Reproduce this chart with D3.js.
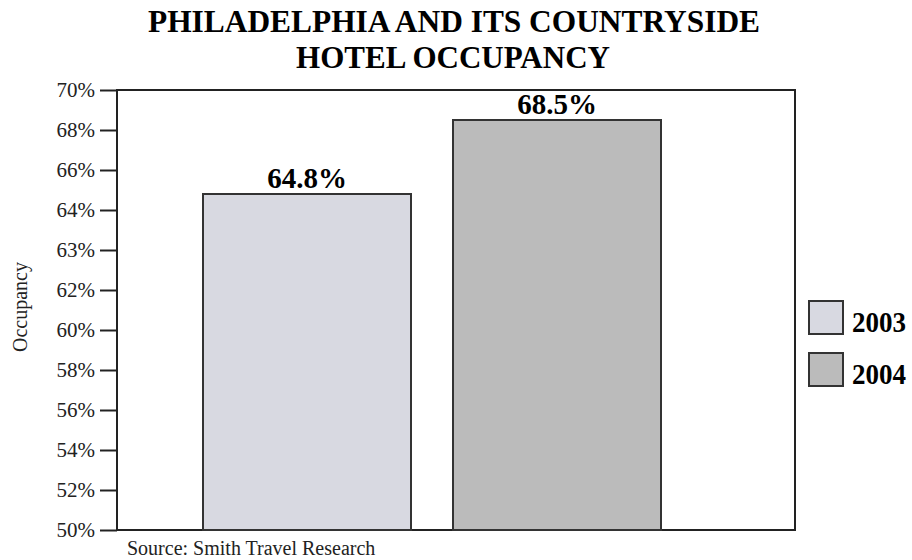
<!DOCTYPE html>
<html>
<head>
<meta charset="utf-8">
<script src="https://cdn.jsdelivr.net/npm/d3@7"></script>
<style>
  body { margin: 0; background: #fff; }
  svg text { font-family: "Liberation Serif", "Times New Roman", serif !important; }
</style>
</head>
<body>
<div id="chart"></div>
<script>
// --- data ---
const years = ["2003", "2004"];
const occupancy = [64.8, 68.5];
const barColors = ["#d8d9e1", "#bbbbbb"];
// tick labels as printed on the original axis (evenly spaced)
const tickValues = [50, 52, 54, 56, 58, 60, 62, 63, 64, 66, 68, 70];

const width = 912, height = 560;
const plot = { left: 117, top: 90, right: 795, bottom: 530 };

const svg = d3.select("#chart").append("svg")
  .attr("width", width)
  .attr("height", height);

// the printed axis spaces its labels evenly, so map piecewise
const y = d3.scaleLinear()
  .domain(tickValues)
  .range(tickValues.map((d, i) => plot.bottom - i * (plot.bottom - plot.top) / (tickValues.length - 1)));

const x = d3.scaleBand()
  .domain(years)
  .range([153, 711])
  .paddingInner(0.168)
  .paddingOuter(0.2);

// title (original type is tall & condensed)
svg.append("text")
  .attr("x", 148).attr("y", 32)
  .attr("font-size", 31).attr("font-weight", "bold")
  .attr("textLength", 612).attr("lengthAdjust", "spacingAndGlyphs")
  .text("PHILADELPHIA AND ITS COUNTRYSIDE");
svg.append("text")
  .attr("x", 296).attr("y", 68)
  .attr("font-size", 31).attr("font-weight", "bold")
  .attr("textLength", 314).attr("lengthAdjust", "spacingAndGlyphs")
  .text("HOTEL OCCUPANCY");

// frame
svg.append("rect")
  .attr("x", plot.left).attr("y", plot.top)
  .attr("width", plot.right - plot.left)
  .attr("height", plot.bottom - plot.top)
  .attr("fill", "none")
  .attr("stroke", "#222")
  .attr("stroke-width", 2);

// bars
svg.selectAll(".bar")
  .data(occupancy)
  .enter()
  .append("rect")
  .attr("class", "bar")
  .attr("x", (d, i) => x(years[i]))
  .attr("y", d => y(d))
  .attr("width", x.bandwidth())
  .attr("height", d => plot.bottom - y(d))
  .attr("fill", (d, i) => barColors[i])
  .attr("stroke", "#333")
  .attr("stroke-width", 2);

svg.selectAll(".val")
  .data(occupancy)
  .enter()
  .append("text")
  .attr("class", "val")
  .attr("x", (d, i) => x(years[i]) + x.bandwidth() / 2)
  .attr("y", d => y(d) - 6)
  .attr("text-anchor", "middle")
  .attr("font-size", 29).attr("font-weight", "bold")
  .text(d => d.toFixed(1) + "%");

// y axis
const yAxis = d3.axisLeft(y)
  .tickValues(tickValues)
  .tickSize(17)
  .tickPadding(5)
  .tickFormat(d => d + "%");

const gy = svg.append("g")
  .attr("transform", `translate(${plot.left},0)`)
  .call(yAxis)
  .attr("font-family", null);
gy.select(".domain").remove();
gy.selectAll(".tick line").attr("stroke", "#222").attr("stroke-width", 2);
gy.selectAll(".tick text")
  .attr("font-size", 21)
  .attr("fill", "#222");

svg.append("text")
  .attr("transform", `translate(27,307) rotate(-90)`)
  .attr("text-anchor", "middle")
  .attr("font-size", 20)
  .attr("fill", "#222")
  .text("Occupancy");

// legend
const legend = svg.selectAll(".legend")
  .data(years)
  .enter()
  .append("g")
  .attr("class", "legend")
  .attr("transform", (d, i) => `translate(809,${301 + i * 52})`);
legend.append("rect")
  .attr("width", 34).attr("height", 33)
  .attr("fill", (d, i) => barColors[i])
  .attr("stroke", "#333")
  .attr("stroke-width", 2);
legend.append("text")
  .attr("x", 43).attr("y", 31)
  .attr("font-size", 30).attr("font-weight", "bold")
  .attr("textLength", 54).attr("lengthAdjust", "spacingAndGlyphs")
  .text(d => d);

// source
svg.append("text")
  .attr("x", 127).attr("y", 555)
  .attr("font-size", 20)
  .attr("fill", "#222")
  .text("Source: Smith Travel Research");
</script>
</body>
</html>
